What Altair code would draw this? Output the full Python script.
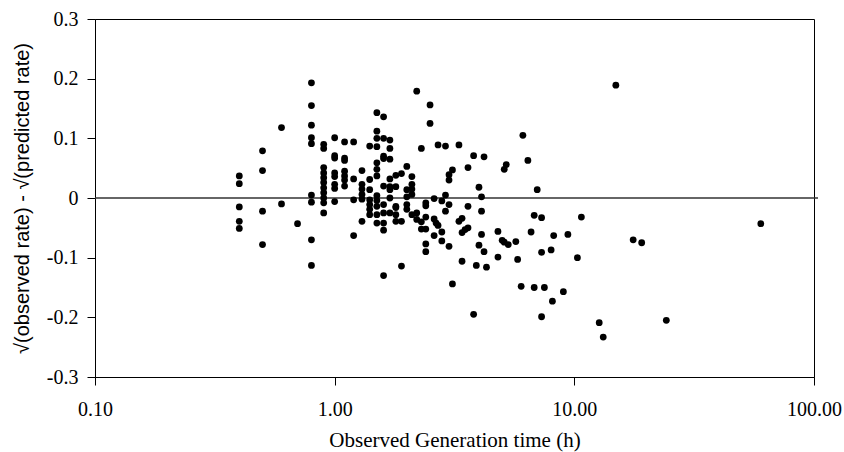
import altair as alt
import pandas as pd

# Observed generation time (h) columns and the residuals read at each
gen_times = [0.4, 0.5, 0.6, 0.7, 0.8, 0.9, 1.0, 1.1, 1.2, 1.3, 1.4, 1.5, 1.6, 1.7, 1.8,
             1.9, 2.0, 2.1, 2.2, 2.3, 2.4, 2.5, 2.6, 2.65, 2.7, 2.8, 2.9, 3.0, 3.1, 3.3,
             3.4, 3.5, 3.6, 3.8, 3.9, 4.0, 4.1, 4.2, 4.3, 4.8, 5.0, 5.1, 5.2, 5.3, 5.7,
             5.8, 6.0, 6.1, 6.4, 6.6, 6.8, 7.0, 7.3, 7.5, 8.0, 8.1, 8.2, 9.0, 9.4, 10.3,
             10.7, 12.7, 13.2, 14.9, 17.6, 19.1, 24.2, 60.0]

residuals = [
    [0.037, 0.024, -0.015, -0.039, -0.051],
    [0.079, 0.046, -0.022, -0.078],
    [0.118, -0.010],
    [-0.043],
    [0.193, 0.155, 0.122, 0.101, 0.091, 0.005, -0.007, -0.070, -0.113],
    [0.090, 0.083, 0.051, 0.042, 0.034, 0.026, 0.017, 0.009, 0.000, -0.008, -0.025],
    [0.101, 0.071, 0.067, 0.042, 0.036, 0.023, 0.016, -0.006],
    [0.094, 0.067, 0.063, 0.045, 0.037, 0.030, 0.020],
    [0.094, 0.032, -0.003, -0.063],
    [0.046, 0.023, 0.015, 0.006, -0.002, -0.039],
    [0.087, 0.031, 0.014, -0.003, -0.011, -0.019, -0.028],
    [0.143, 0.112, 0.100, 0.086, 0.059, 0.048, 0.037, 0.004, -0.004, -0.014, -0.028, -0.042],
    [0.136, 0.100, 0.070, 0.066, 0.020, -0.011, -0.025, -0.042, -0.054, -0.130],
    [0.097, 0.083, 0.065, 0.032, 0.019, 0.014, 0.000, -0.025],
    [0.038, 0.019, -0.014, -0.016, -0.028, -0.039],
    [0.041, -0.039, -0.114],
    [0.053, 0.014, 0.002, -0.011, -0.019],
    [0.036, 0.023, 0.015, 0.006, -0.028],
    [0.179, -0.025, -0.036],
    [0.083, -0.040, -0.052],
    [-0.008, -0.013, -0.032, -0.052, -0.077, -0.090],
    [0.156, 0.125],
    [-0.001, -0.035, -0.063],
    [-0.042],
    [0.089, -0.046],
    [-0.005, -0.057, -0.072],
    [0.087, 0.005, -0.022],
    [0.039, 0.030, -0.011, -0.081],
    [0.047, -0.144],
    [0.089, -0.039],
    [-0.034, -0.058, -0.106],
    [-0.053],
    [0.051, -0.014, -0.050],
    [0.071, -0.195],
    [-0.113],
    [0.018, -0.079],
    [0.002, -0.022, -0.061],
    [0.069, -0.090],
    [-0.116],
    [-0.056, -0.099],
    [-0.071],
    [0.048, -0.074],
    [0.056],
    [-0.078],
    [-0.073],
    [-0.103],
    [-0.148],
    [0.105],
    [0.063],
    [-0.057],
    [-0.029, -0.150],
    [0.014],
    [-0.033, -0.091, -0.199],
    [-0.150],
    [-0.087],
    [-0.173],
    [-0.063],
    [-0.157],
    [-0.061],
    [-0.100],
    [-0.032],
    [-0.209],
    [-0.233],
    [0.189],
    [-0.070],
    [-0.075],
    [-0.205],
    [-0.043],
]

x_ticks = [0.1, 1, 10, 100]
y_ticks = [-0.3, -0.2, -0.1, 0, 0.1, 0.2, 0.3]

rows = []
for t, ys in zip(gen_times, residuals):
    for r in ys:
        rows.append({"t": t, "r": r})
df = pd.DataFrame(rows)

W, H = 719, 358

x_enc = alt.X(
    "t:Q",
    scale=alt.Scale(type="log", domain=[0.1, 100], nice=False),
    axis=alt.Axis(
        values=x_ticks, format=".2f", grid=False, tickSize=8, tickColor="black",
        domainColor="black", labelColor="black", labelFont="Liberation Serif",
        labelFontSize=20, labelPadding=14, labelFlush=False, labelOverlap=False,
        title="Observed Generation time (h)", titleFont="Liberation Serif",
        titleFontSize=21, titleFontWeight="normal", titleColor="black",
        titleY=63, titleBaseline="middle",
    ),
)
y_enc = alt.Y(
    "r:Q",
    scale=alt.Scale(domain=[-0.3, 0.3], nice=False, zero=False),
    axis=alt.Axis(
        values=y_ticks, grid=False, tickSize=8, tickColor="black",
        domainColor="black", labelColor="black", labelFont="Liberation Serif",
        labelFontSize=20, labelPadding=9,
        labelExpr="abs(datum.value) < 1e-9 ? '0' : (datum.value < 0 ? '-' + format(-datum.value, '.1f') : format(datum.value, '.1f'))",
        title="√(observed rate) - √(predicted rate)", titleFont="Liberation Sans",
        titleFontSize=20, titleFontWeight="normal", titleColor="black",
        titleX=-73, titleY=H / 2, titleAngle=-90, titleBaseline="middle",
    ),
)

points = alt.Chart(df).mark_circle(color="black", opacity=1, size=46).encode(x=x_enc, y=y_enc)

zero_line = alt.Chart(pd.DataFrame({"r": [0.0]})).mark_rule(color="#333333", strokeWidth=1.3).encode(
    y=alt.Y("r:Q"), x=alt.value(0), x2=alt.value(W + 4)
)

chart = (
    alt.layer(zero_line, points)
    .properties(
        width=W, height=H,
        autosize=alt.AutoSizeParams(type="none"),
        padding={"left": 95, "top": 19, "right": 30, "bottom": 75},
        background="white",
    )
    .configure_view(stroke="black", strokeWidth=1)
)

chart.save("out.html", embed_options={"renderer": "svg", "actions": False})
